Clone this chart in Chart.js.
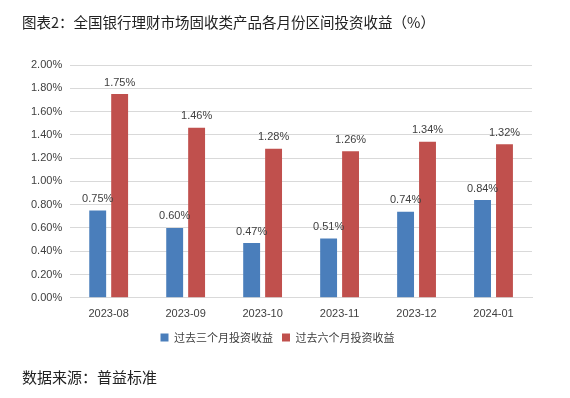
<!DOCTYPE html>
<html>
<head>
<meta charset="utf-8">
<script src="https://cdn.jsdelivr.net/npm/chart.js@4"></script>
<style>
  body { margin: 0; background: #fff; }
  #wrap { position: relative; width: 570px; height: 398px; }
  #title { position: absolute; left: 22px; top: 11px; font: 14.5px "Noto Sans CJK SC", sans-serif; color: #222; white-space: nowrap; }
  #source { position: absolute; left: 22px; top: 366px; font: 15px "Noto Sans CJK SC", sans-serif; color: #222; white-space: nowrap; }
  canvas { position: absolute; left: 0; top: 0; }
</style>
</head>
<body>
<div id="wrap">
  <canvas id="chart" width="570" height="398"></canvas>
  <div id="title">图表2：全国银行理财市场固收类产品各月份区间投资收益（%）</div>
  <div id="source">数据来源：普益标准</div>
</div>
<script>
// data
const months = ['2023-08', '2023-09', '2023-10', '2023-11', '2023-12', '2024-01'];
const threeMonth = [0.75, 0.60, 0.47, 0.51, 0.74, 0.84];
const sixMonth = [1.75, 1.46, 1.28, 1.26, 1.34, 1.32];
const seriesNames = ['过去三个月投资收益', '过去六个月投资收益'];

// draw value labels above each bar
const barLabels = {
    id: 'barLabels',
    afterDatasetsDraw(chart) {
        const ctx = chart.ctx;
        ctx.save();
        ctx.font = '11px "Liberation Sans", sans-serif';
        ctx.fillStyle = '#404040';
        ctx.textAlign = 'center';
        ctx.textBaseline = 'bottom';
        chart.data.datasets.forEach(function(ds, i) {
            chart.getDatasetMeta(i).data.forEach(function(bar, j) {
                ctx.fillText(ds.data[j].toFixed(2) + '%', bar.x, bar.y - 6);
            });
        });
        ctx.restore();
    }
};

const ctx = document.getElementById('chart').getContext('2d');
new Chart(ctx, {
    type: 'bar',
    data: {
        labels: months,
        datasets: [{
            label: seriesNames[0],
            data: threeMonth,
            backgroundColor: '#4A7EBB'
        }, {
            label: seriesNames[1],
            data: sixMonth,
            backgroundColor: '#C0504D'
        }]
    },
    options: {
        responsive: false,
        animation: false,
        categoryPercentage: 0.57,
        barPercentage: 0.77,
        layout: { padding: { top: 65, bottom: 45, left: 23, right: 38 } },
        plugins: {
            legend: {
                position: 'bottom',
                labels: {
                    boxWidth: 8,
                    boxHeight: 8,
                    padding: 9,
                    color: '#404040',
                    font: { size: 11, family: '"Noto Sans CJK SC", sans-serif' }
                }
            },
            tooltip: { enabled: false }
        },
        scales: {
            x: {
                grid: { display: false },
                border: { color: '#d9d9d9' },
                ticks: { color: '#404040', font: { size: 11, family: '"Liberation Sans", sans-serif' }, padding: 2 }
            },
            y: {
                min: 0,
                max: 2,
                grid: { color: '#d9d9d9', drawTicks: false },
                border: { display: false },
                ticks: {
                    stepSize: 0.2,
                    padding: 8,
                    color: '#404040',
                    font: { size: 11, family: '"Liberation Sans", sans-serif' },
                    callback: function(v) { return v.toFixed(2) + '%'; }
                }
            }
        }
    },
    plugins: [barLabels]
});
</script>
</body>
</html>
